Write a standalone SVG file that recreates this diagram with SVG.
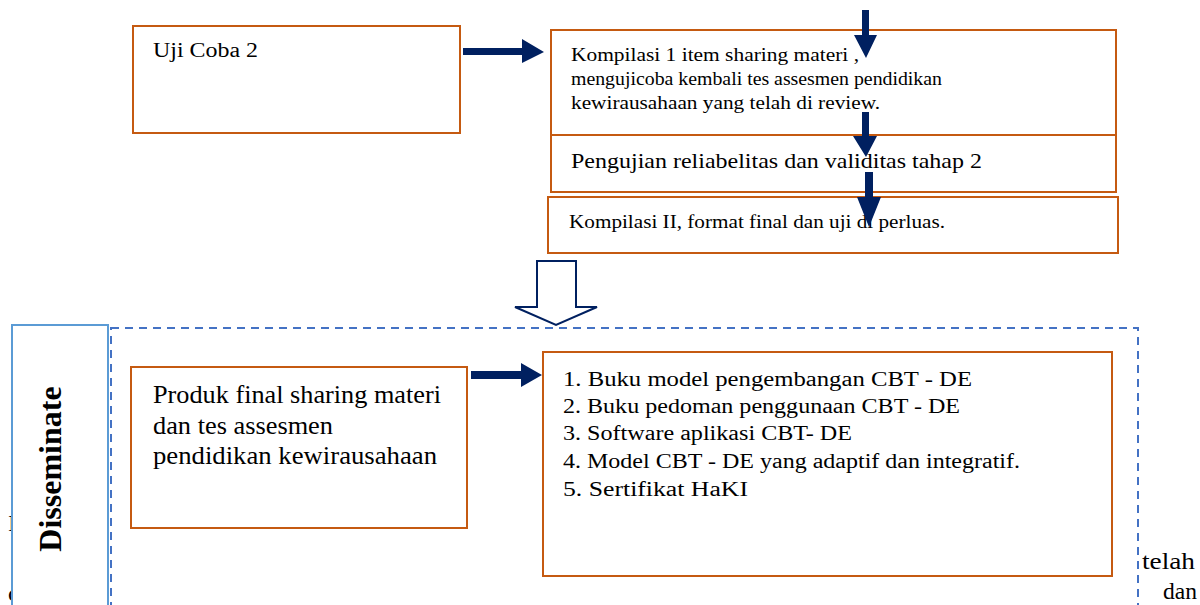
<svg xmlns="http://www.w3.org/2000/svg" width="1200" height="605" viewBox="0 0 1200 605">
  <style>
    .box { fill: #ffffff; stroke: #C55A11; stroke-width: 2; }
    .txt { font-family: "Liberation Serif", "Times New Roman", serif; fill: #000000; }
    .arrow { fill: #002060; stroke: none; }
    .hollow { fill: #ffffff; stroke: #002060; stroke-width: 2; stroke-linejoin: miter; }
    .panel { fill: #ffffff; stroke: #5B9BD5; stroke-width: 2; }
    .dash { fill: none; stroke: #4472C4; stroke-width: 2; stroke-dasharray: 8 6; }
  </style>

  <!-- body text lines running behind the panel -->
  <g id="body-text" class="txt" font-size="24">
    <text x="8" y="531">I</text>
    <text x="8" y="601">c</text>
    <text x="1142" y="569" textLength="53" lengthAdjust="spacingAndGlyphs">telah</text>
    <text x="1163" y="599" textLength="34" lengthAdjust="spacingAndGlyphs">dan</text>
  </g>

  <!-- Disseminate stage frame -->
  <g id="disseminate-frame">
    <rect class="dash" x="111" y="328" width="1027" height="290"/>
    <rect class="panel" x="12" y="325" width="96" height="295"/>
    <text class="txt" font-size="32" font-weight="bold" text-anchor="middle" transform="translate(61,469) rotate(-90)">Disseminate</text>
  </g>

  <g id="uji-coba-2">
    <rect class="box" x="133" y="26" width="327" height="107"/>
    <text class="txt" x="153" y="57" font-size="20.5" textLength="105" lengthAdjust="spacingAndGlyphs">Uji Coba 2</text>
  </g>

  <g id="kompilasi-1">
    <rect class="box" x="551" y="30" width="565" height="105"/>
    <g class="txt" font-size="18">
      <text x="571" y="61" textLength="288" lengthAdjust="spacingAndGlyphs">Kompilasi 1 item sharing materi ,</text>
      <text x="571" y="85" textLength="371" lengthAdjust="spacingAndGlyphs">mengujicoba kembali tes assesmen pendidikan</text>
      <text x="571" y="109" textLength="309" lengthAdjust="spacingAndGlyphs">kewirausahaan yang telah di review.</text>
    </g>
  </g>

  <g id="pengujian">
    <rect class="box" x="551" y="135" width="565" height="57"/>
    <text class="txt" x="571" y="168" font-size="22" textLength="411" lengthAdjust="spacingAndGlyphs">Pengujian reliabelitas dan validitas tahap 2</text>
  </g>

  <g id="kompilasi-2">
    <rect class="box" x="548" y="197" width="570" height="56"/>
    <text class="txt" x="569" y="228" font-size="18" textLength="376" lengthAdjust="spacingAndGlyphs">Kompilasi II, format final dan uji di perluas.</text>
  </g>

  <g id="produk-final">
    <rect class="box" x="131" y="367" width="336" height="161"/>
    <g class="txt" font-size="25">
      <text x="153" y="403" textLength="288" lengthAdjust="spacingAndGlyphs">Produk final sharing materi</text>
      <text x="153" y="434" textLength="180" lengthAdjust="spacingAndGlyphs">dan tes assesmen</text>
      <text x="153" y="464" textLength="284" lengthAdjust="spacingAndGlyphs">pendidikan kewirausahaan</text>
    </g>
  </g>

  <g id="luaran">
    <rect class="box" x="543" y="352" width="569" height="224"/>
    <g class="txt" font-size="20.5">
      <text x="563" y="386" textLength="409" lengthAdjust="spacingAndGlyphs">1. Buku model pengembangan CBT - DE</text>
      <text x="563" y="413" textLength="397" lengthAdjust="spacingAndGlyphs">2. Buku pedoman penggunaan CBT - DE</text>
      <text x="563" y="440" textLength="289" lengthAdjust="spacingAndGlyphs">3. Software aplikasi CBT- DE</text>
      <text x="563" y="468" textLength="457" lengthAdjust="spacingAndGlyphs">4. Model CBT - DE yang adaptif dan integratif.</text>
      <text x="563" y="496" textLength="185" lengthAdjust="spacingAndGlyphs">5. Sertifikat HaKI</text>
    </g>
  </g>

  <!-- connectors -->
  <g id="connectors">
    <polygon class="arrow" points="463,48 522,48 522,39 544,52 522,63 522,55 463,55"/>
    <polygon class="arrow" points="471,371 521,371 521,363 542,375 521,387 521,379 471,379"/>
    <polygon class="arrow" points="862,10 869,10 869,35 877,35 866,58 854,35 862,35"/>
    <polygon class="arrow" points="862,112 869,112 869,136 877,136 866,157 853,136 862,136"/>
    <polygon class="arrow" points="865,172 873,172 873,197 881,197 869,227 857,197 865,197"/>
    <polygon class="hollow" points="537,261 576,261 576,307 597,307 556,325 515,307 537,307"/>
  </g>
</svg>
